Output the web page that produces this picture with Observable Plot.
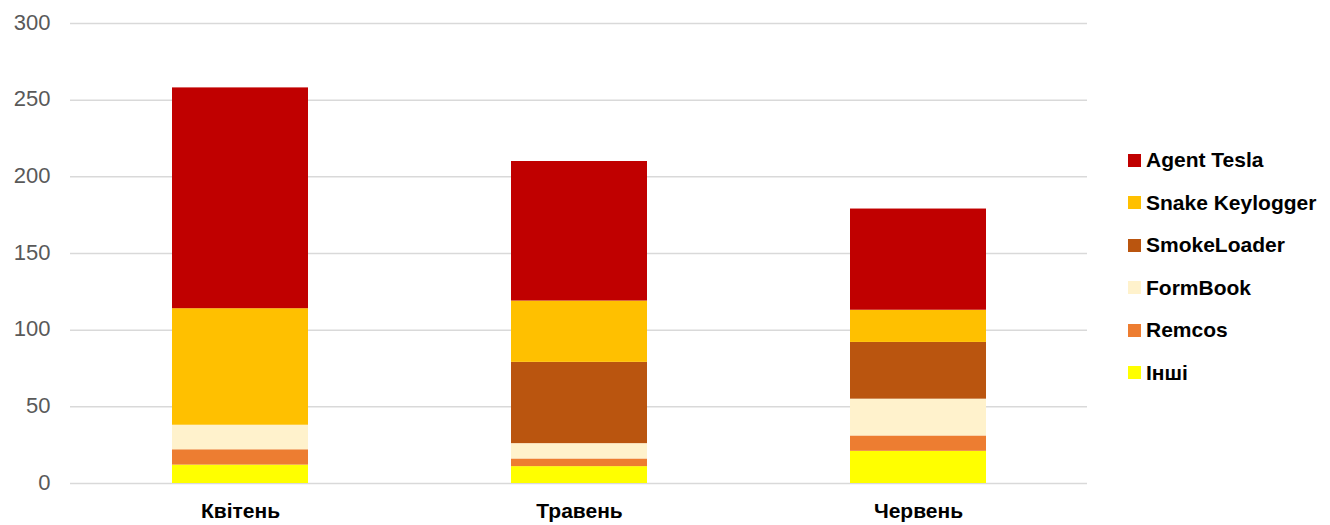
<!DOCTYPE html>
<html>
<head>
<meta charset="utf-8">
<script src="https://cdn.jsdelivr.net/npm/d3@7"></script>
<script src="https://cdn.jsdelivr.net/npm/@observablehq/plot@0.6"></script>
<style>
  html, body { margin: 0; padding: 0; background: #fff; }
  #wrap { position: relative; width: 1330px; height: 525px; }
  #legend { position: absolute; left: 1128px; top: 0; font-family: "Liberation Sans", Arial, sans-serif; }
  .item { position: absolute; left: 0; display: flex; align-items: center; white-space: nowrap;
          font-size: 21px; font-weight: bold; color: #000; transform: translateY(-50%); }
  .sw { width: 13px; height: 13px; margin-right: 5px; flex: none; }
</style>
</head>
<body>
<div id="wrap"><div id="legend"></div></div>
<script>
// Months on the x axis
const months = ["Квітень", "Травень", "Червень"];

// Detections per malware family, per month
const agentTesla = [144, 91, 66];
const snakeKeylogger = [76, 40, 21];
const smokeLoader = [0, 53, 37];
const formBook = [16, 10, 24];
const remcos = [10, 5, 10];
const other = [12, 11, 21];

// Stack order, bottom to top
const seriesNames = ["Інші", "Remcos", "FormBook", "SmokeLoader", "Snake Keylogger", "Agent Tesla"];
const seriesValues = [other, remcos, formBook, smokeLoader, snakeKeylogger, agentTesla];
const seriesColors = ["#FFFF00", "#ED7D31", "#FFF2CC", "#BA550F", "#FFC000", "#C00000"];

const yTicks = [0, 50, 100, 150, 200, 250, 300];

const rows = [];
seriesNames.forEach((name, i) => {
  months.forEach((m, j) => rows.push({ month: m, series: name, value: seriesValues[i][j] }));
});

const chart = Plot.plot({
  width: 1330,
  height: 525,
  marginLeft: 70,
  marginRight: 243,
  marginTop: 23,
  marginBottom: 42,
  style: { fontFamily: "'Liberation Sans', Arial, sans-serif", background: "#fff" },
  x: { domain: months, paddingInner: 0.6, paddingOuter: 0.3, label: null },
  y: { domain: [0, 300], label: null },
  color: { domain: seriesNames, range: seriesColors },
  marks: [
    Plot.gridY(yTicks, { stroke: "#D9D9D9", strokeOpacity: 1, strokeWidth: 1.5 }),
    Plot.barY(rows, { x: "month", y: "value", fill: "series", order: seriesNames }),
    Plot.axisY(yTicks, { tickSize: 0, tickPadding: 20, fontSize: 22, fill: "#595959", stroke: "#595959", strokeWidth: 0.3, label: null, dy: -1 }),
    Plot.axisX({ tickSize: 0, tickPadding: 20, fontSize: 21, fontWeight: "bold", fill: "#000", label: null })
  ]
});
document.getElementById("wrap").prepend(chart);
chart.style.position = "absolute";
chart.style.left = "0";
chart.style.top = "0";

// Legend, top entry first
const legend = document.getElementById("legend");
const legendTop = 160, legendStep = 42.5;
seriesNames.slice().reverse().forEach((name, k) => {
  const i = seriesNames.indexOf(name);
  const item = document.createElement("div");
  item.className = "item";
  item.style.top = (legendTop + k * legendStep) + "px";
  const sw = document.createElement("span");
  sw.className = "sw";
  sw.style.background = seriesColors[i];
  const label = document.createElement("span");
  label.textContent = name;
  item.append(sw, label);
  legend.append(item);
});
</script>
</body>
</html>
